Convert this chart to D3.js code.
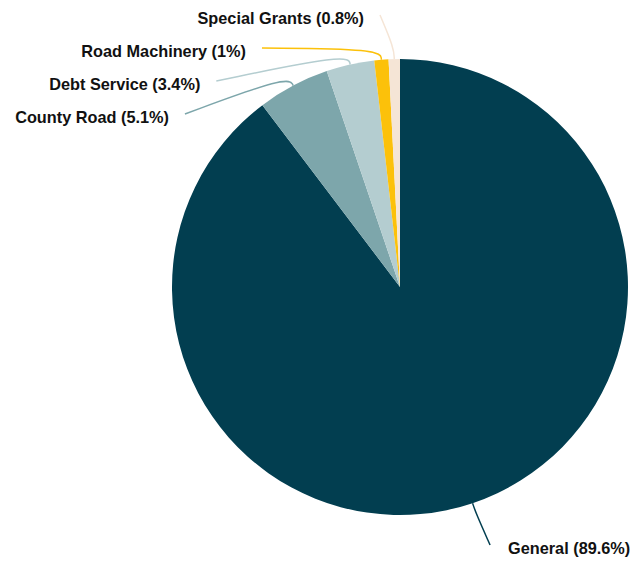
<!DOCTYPE html>
<html>
<head>
<meta charset="utf-8">
<script src="https://cdn.jsdelivr.net/npm/d3@7"></script>
<style>
  html, body { margin: 0; padding: 0; background: #fff; }
  svg { display: block; }
  .lbl { font-family: "Liberation Sans", Arial, Helvetica, sans-serif; font-weight: bold; font-size: 16.3px; fill: #111; }
</style>
</head>
<body>
<svg id="chart" width="634" height="561"></svg>
<script>
// Fund shares of the budget, in percent
const funds  = ["General", "County Road", "Debt Service", "Road Machinery", "Special Grants"];
const shares = [89.6, 5.1, 3.4, 1, 0.8];
const colors = ["#023e50", "#7da6ab", "#b4cdd0", "#fcc10a", "#f5e5d6"];

const width = 634, height = 561;
const cx = 400, cy = 287, radius = 228;
const labelRadius = 276;   // circle on which displaced leader lines end
const elbow = 11;          // radial run before a leader line bends
const run = 14;            // horizontal run of an undisplaced leader line
const spacing = 33;        // minimum vertical gap between stacked labels
const topLimit = 15, bottomLimit = height - 16;

const svg = d3.select("#chart");
const g = svg.append("g").attr("transform", `translate(${cx},${cy})`);

const data = funds.map((name, i) => ({ name, value: shares[i], color: colors[i] }));

const pie = d3.pie().value(d => d.value).sort(null);
const arcs = pie(data);
const arc = d3.arc().innerRadius(0).outerRadius(radius);

g.selectAll("path.slice")
  .data(arcs)
  .join("path")
  .attr("class", "slice")
  .attr("d", arc)
  .attr("fill", d => d.data.color);

// Label placement: start from the natural angle, keep inside the frame,
// then push left-side labels apart from the top edge downward.
const mid = d => (d.startAngle + d.endAngle) / 2;
const pt = (a, r) => [Math.sin(a) * r, -Math.cos(a) * r];

const labels = arcs.map(d => {
  const a = mid(d);
  const side = Math.sin(a) < 0 ? "left" : "right";
  const y0 = pt(a, labelRadius)[1];
  const y = Math.max(topLimit - cy, Math.min(bottomLimit - cy, y0));
  return { d, a, side, y, pushed: false };
});

// left side: the slice nearest twelve o'clock gets the top slot
const left = labels.filter(l => l.side === "left").sort((p, q) => q.a - p.a);
let prev = -Infinity;
left.forEach(l => {
  if (l.y < prev + spacing) { l.y = prev + spacing; l.pushed = true; }
  prev = l.y;
});

labels.forEach(l => {
  if (l.pushed) {
    const dx = Math.sqrt(labelRadius * labelRadius - l.y * l.y);
    l.x = l.side === "left" ? -dx : dx;
  } else {
    const ex = pt(l.a, radius + elbow)[0];
    l.x = l.side === "left" ? ex - run : ex + run;
  }
});

const line = d3.line().curve(d3.curveBasis);

g.selectAll("path.leader")
  .data(labels)
  .join("path")
  .attr("class", "leader")
  .attr("fill", "none")
  .attr("stroke", l => l.d.data.color)
  .attr("stroke-width", 1.5)
  .attr("d", l => line([pt(l.a, radius), pt(l.a, radius + elbow), [l.x, l.y]]));

g.selectAll("text.lbl")
  .data(labels)
  .join("text")
  .attr("class", "lbl")
  .attr("x", l => l.side === "left" ? l.x - 16 : l.x + 18)
  .attr("y", l => l.y + 9)
  .attr("text-anchor", l => l.side === "left" ? "end" : "start")
  .text(l => `${l.d.data.name} (${l.d.data.value}%)`);
</script>
</body>
</html>
